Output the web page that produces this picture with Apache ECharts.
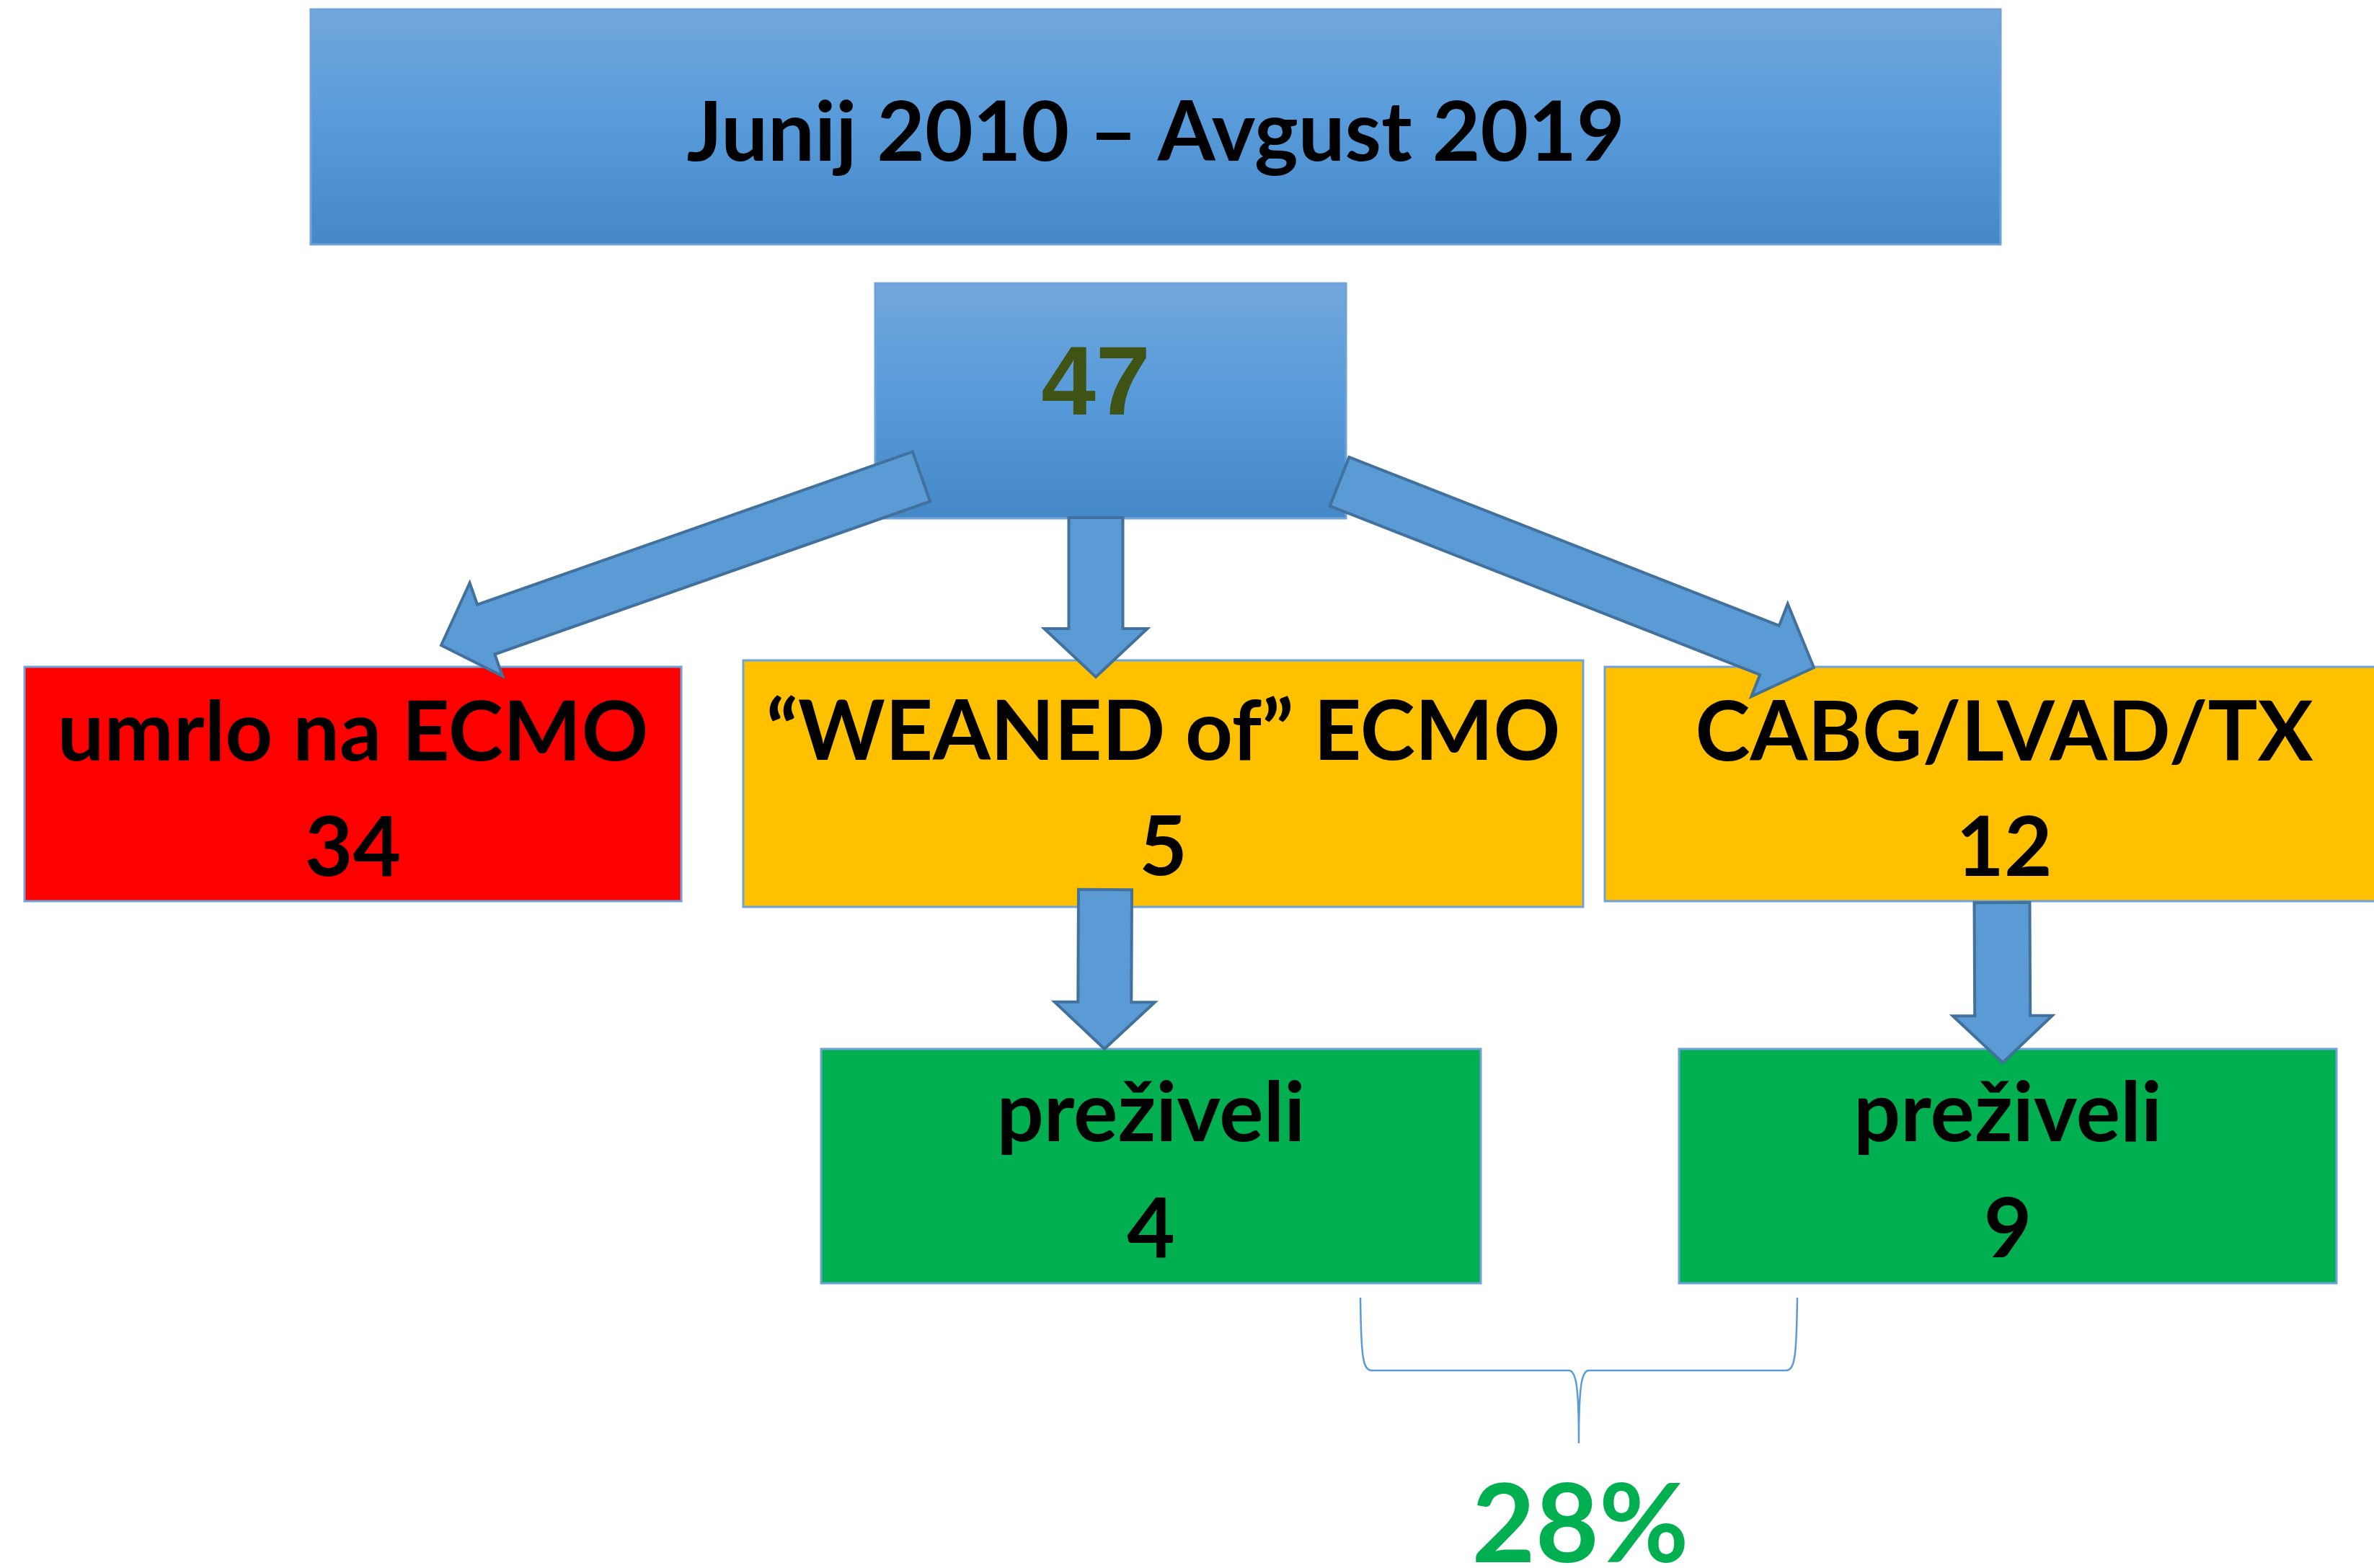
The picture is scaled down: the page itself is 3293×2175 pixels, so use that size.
<!DOCTYPE html>
<html><head><meta charset="utf-8">
<script src="https://cdn.jsdelivr.net/npm/echarts@6/dist/echarts.min.js"></script>
<style>html,body{margin:0;padding:0;background:#fff}#c{width:3293px;height:2175px}</style>
</head><body><div id="c"></div>
<script>
// ---- data ----
const titleText = 'Junij 2010 – Avgust 2019';
const totalCount = 47;
const outcomeLabels = ['umrlo na ECMO', '“WEANED of” ECMO', 'CABG/LVAD/TX'];
const outcomeCounts = [34, 5, 12];
const survivorLabels = ['preživeli', 'preživeli'];
const survivorCounts = [4, 9];
const survivalPercent = 28;

// ---- layout (pixel space of a hidden 3293x2175 cartesian grid) ----
const titleBox = [431, 13, 2775, 339];
const totalBox = [1214, 393, 1867, 719];
const outcomeBoxes = [[34, 925, 945, 1250], [1031, 916, 2196, 1258], [2226, 925, 3334, 1250]];
const survivorBoxes = [[1139, 1455, 2054, 1780], [2329, 1455, 3241, 1780]];
// tailX, tailY, tipX, tipY, shaftWidth, headWidth, headLength
const arrowLayout = [
  [1278, 661, 612, 895, 73, 137, 66],
  [1520, 718, 1520, 939, 75, 143, 67],
  [1858, 668, 2516, 926, 73, 138, 66],
  [1533, 1234, 1532, 1455, 74, 139, 65],
  [2777, 1252, 2778, 1474, 77, 138, 65]
];
const braceLayout = [1887, 1800, 2493, 2002]; // left, top, right, bottom
const braceMidY = 1901;
const percentPos = [2192, 2112];

// ---- styles ----
const W = 3293, H = 2175;
const FONT = 'Lato';
const TEXT_DY = 6;
const TXT = 115;
const blueGrad = () => new echarts.graphic.LinearGradient(0, 0, 0, 1, [
  {offset: 0, color: '#72A7DC'}, {offset: 0.5, color: '#579ADA'}, {offset: 1, color: '#4488C7'}]);
const boxFills = ['grad', 'grad', '#FF0000', '#FFC000', '#FFC000', '#00B050', '#00B050'];
const allBoxes = [titleBox, totalBox].concat(outcomeBoxes, survivorBoxes);

// text items
const textItems = [];
function cx(b) { return (b[0] + b[2]) / 2; }
function cy(b) { return (b[1] + b[3]) / 2; }
textItems.push({v: [cx(titleBox), cy(titleBox) + 4], text: titleText, size: 115, color: '#000', family: FONT});
textItems.push({v: [1520, 531], text: String(totalCount), size: 136, color: '#3F5315', family: 'Liberation Sans'});
outcomeBoxes.forEach((b, i) => {
  const x = i === 2 ? 2780 : cx(b);
  textItems.push({v: [x, cy(b) - 76], text: outcomeLabels[i], size: TXT, color: '#000', family: FONT});
  textItems.push({v: [x, cy(b) + 84], text: String(outcomeCounts[i]), size: TXT, color: '#000', family: FONT});
});
survivorBoxes.forEach((b, i) => {
  textItems.push({v: [cx(b), cy(b) - 78], text: survivorLabels[i], size: TXT, color: '#000', family: FONT});
  textItems.push({v: [cx(b), cy(b) + 83], text: String(survivorCounts[i]), size: TXT, color: '#000', family: FONT});
});
textItems.push({v: percentPos, text: survivalPercent + '%', size: 152, color: '#00B050', family: FONT});

const chart = echarts.init(document.getElementById('c'), null, {renderer: 'canvas'});
chart.setOption({
  animation: false,
  backgroundColor: '#ffffff',
  grid: {left: 0, right: 0, top: 0, bottom: 0},
  xAxis: {type: 'value', min: 0, max: W, show: false},
  yAxis: {type: 'value', min: 0, max: H, inverse: true, show: false},
  series: [
    {
      type: 'custom', z: 1, clip: false,
      data: allBoxes,
      encode: {x: [0, 2], y: [1, 3]},
      renderItem(params, api) {
        const p0 = api.coord([api.value(0), api.value(1)]);
        const p1 = api.coord([api.value(2), api.value(3)]);
        const f = boxFills[params.dataIndex];
        return {type: 'rect', shape: {x: p0[0], y: p0[1], width: p1[0] - p0[0], height: p1[1] - p0[1]},
          style: {fill: f === 'grad' ? blueGrad() : f, stroke: '#6EA2D8', lineWidth: 3}};
      }
    },
    {
      type: 'custom', z: 2, clip: false,
      data: arrowLayout,
      encode: {x: [0, 2], y: [1, 3]},
      renderItem(params, api) {
        const tx = api.value(0), ty = api.value(1), px = api.value(2), py = api.value(3);
        const w = api.value(4) / 2, hw = api.value(5) / 2, hl = api.value(6);
        const len = Math.hypot(px - tx, py - ty);
        const dx = (px - tx) / len, dy = (py - ty) / len;
        const nx = -dy, ny = dx;
        const bx = px - dx * hl, by = py - dy * hl;
        const pts = [
          [tx + nx * w, ty + ny * w], [bx + nx * w, by + ny * w], [bx + nx * hw, by + ny * hw],
          [px, py],
          [bx - nx * hw, by - ny * hw], [bx - nx * w, by - ny * w], [tx - nx * w, ty - ny * w]
        ].map(p => api.coord(p));
        return {type: 'polygon', shape: {points: pts}, style: {fill: '#5B9BD5', stroke: '#41719C', lineWidth: 4, lineJoin: 'miter'}};
      }
    },
    {
      type: 'custom', z: 2, clip: false,
      data: [braceLayout],
      encode: {x: [0, 2], y: [1, 3]},
      renderItem(params, api) {
        const l = api.value(0), t = api.value(1), r = api.value(2), b = api.value(3);
        const m = braceMidY, c = (l + r) / 2;
        const P = (x, y) => api.coord([x, y]).join(' ');
        const d = 'M' + P(l, t) + ' C' + P(l + 1, t + 80) + ' ' + P(l + 3, m) + ' ' + P(l + 16, m) +
          ' L' + P(c - 14, m) + ' C' + P(c - 4, m) + ' ' + P(c, m + 20) + ' ' + P(c, b) +
          ' M' + P(r, t) + ' C' + P(r - 1, t + 80) + ' ' + P(r - 3, m) + ' ' + P(r - 16, m) +
          ' L' + P(c + 14, m) + ' C' + P(c + 4, m) + ' ' + P(c, m + 20) + ' ' + P(c, b);
        return {type: 'path', shape: {pathData: d}, style: {fill: null, stroke: '#5B9BD5', lineWidth: 2.5}};
      }
    },
    {
      type: 'custom', z: 3, clip: false,
      data: textItems.map(t => t.v),
      encode: {x: 0, y: 1},
      renderItem(params, api) {
        const t = textItems[params.dataIndex];
        const p = api.coord([api.value(0), api.value(1) + TEXT_DY]);
        return {type: 'text', x: p[0], y: p[1],
          style: {text: t.text, fill: t.color, font: 'bold ' + t.size + 'px "' + t.family + '"', align: 'center', verticalAlign: 'middle'}};
      }
    }
  ]
});
</script></body></html>
